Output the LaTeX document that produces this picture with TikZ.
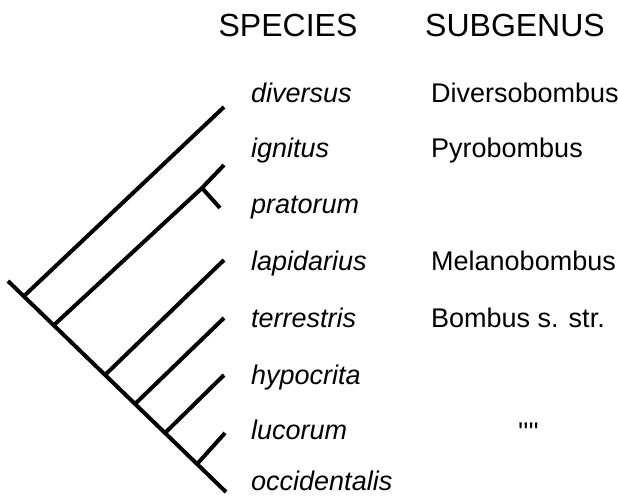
\documentclass[tikz,border=0pt]{standalone}
\usepackage{fontspec}
\setmainfont{Liberation Sans}
\usepackage{tikz}
\usetikzlibrary{positioning}

\tikzset{
  branch/.style={line width=4pt},
  species/.style={font=\fontsize{27}{30}\selectfont\itshape, anchor=base west, inner sep=0pt},
  subgenus/.style={font=\fontsize{27}{30}\selectfont, anchor=base west, inner sep=0pt},
  heading/.style={font=\fontsize{32}{36}\selectfont, anchor=base, inner sep=0pt}
}

\begin{document}
\begin{tikzpicture}[x=1pt,y=-1pt]
  \useasboundingbox (0,0) rectangle (618,495);

  % Column headings
  \node[heading] (hspecies) at (288,37) {SPECIES};
  \node[heading] (hsubgenus) at (515,37) {SUBGENUS};

  % Species names
  \node[species] (diversus) at (251,102) {diversus};
  \node[species] (ignitus) at (251,157) {ignitus};
  \node[species] (pratorum) at (251,213) {pratorum};
  \node[species] (lapidarius) at (251,270) {lapidarius};
  \node[species] (terrestris) at (251,327) {terrestris};
  \node[species] (hypocrita) at (251,384) {hypocrita};
  \node[species] (lucorum) at (251,439) {lucorum};
  \node[species] (occidentalis) at (251,490) {occidentalis};

  % Subgenera
  \node[subgenus] (diversobombus) at (431,102) {Diversobombus};
  \node[subgenus] (pyrobombus) at (431,157) {Pyrobombus};
  \node[subgenus] (melanobombus) at (431,270) {Melanobombus};
  \node[subgenus] (bombusss) at (431,327) {Bombus s. str.};
  \node[subgenus] (ditto) at (518,441) {\textquotesingle\textquotesingle\textquotesingle\textquotesingle};

  % Tree: nodes on the backbone
  \coordinate (root) at (8,281);
  \coordinate (n1) at (24,296);
  \coordinate (n2) at (54,325);
  \coordinate (n3) at (106,374);
  \coordinate (n4) at (136,403);
  \coordinate (n5) at (166,432);
  \coordinate (n6) at (198,463);
  \coordinate (npy) at (202,188);

  % Tree: tips
  \coordinate (tdiv) at (224,107);
  \coordinate (tign) at (224,165);
  \coordinate (tpra) at (220,208);
  \coordinate (tlap) at (224,260);
  \coordinate (tter) at (224,318);
  \coordinate (thyp) at (224,375);
  \coordinate (tluc) at (225,433);
  \coordinate (tocc) at (226,492);

  % Tree: branches
  \draw[branch] (root) -- (tocc);
  \draw[branch] (n1) -- (tdiv);
  \draw[branch] (n2) -- (npy) -- (tign);
  \draw[branch] (npy) -- (tpra);
  \draw[branch] (n3) -- (tlap);
  \draw[branch] (n4) -- (tter);
  \draw[branch] (n5) -- (thyp);
  \draw[branch] (n6) -- (tluc);
\end{tikzpicture}
\end{document}
